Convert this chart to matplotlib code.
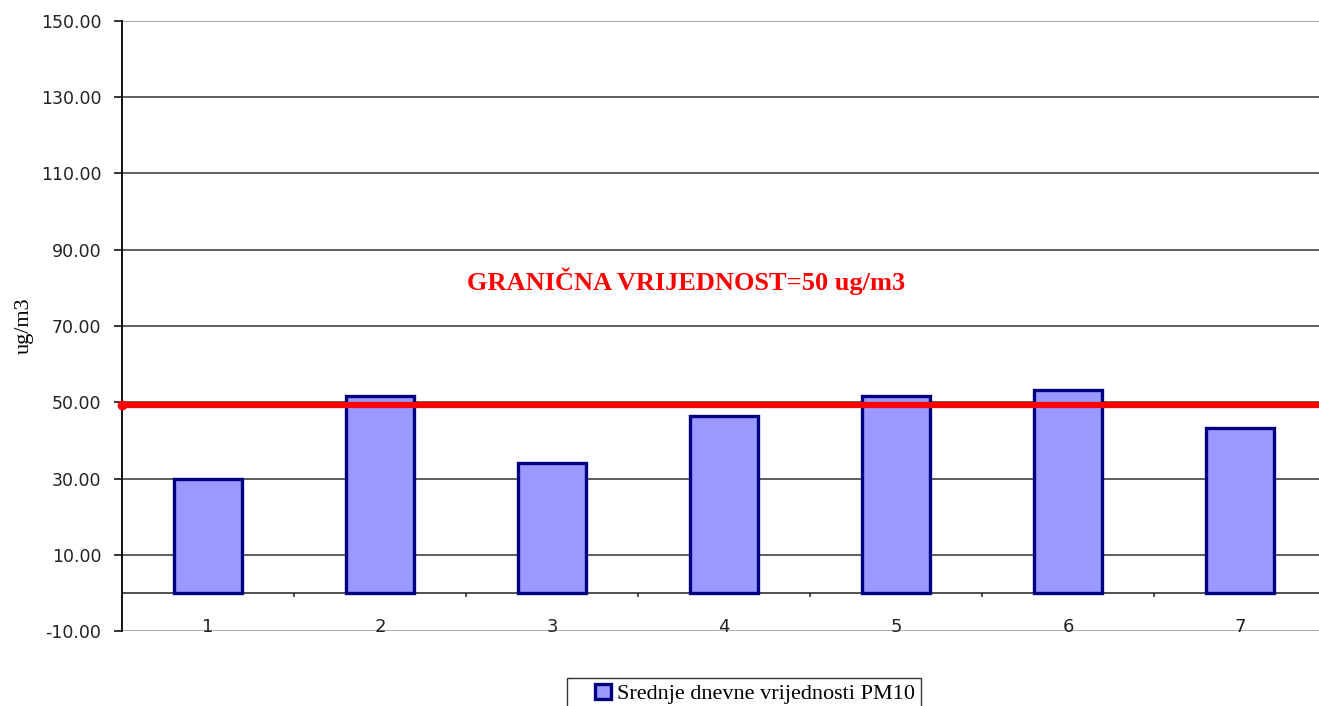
import matplotlib
matplotlib.use("Agg")
import matplotlib.pyplot as plt
from matplotlib.patches import Patch, Rectangle

# podaci
dani = [1, 2, 3, 4, 5, 6, 7]
dani_labels = ["1", "2", "3", "4", "5", "6", "7"]
pm10 = [30.0, 51.7, 34.0, 46.4, 51.7, 53.2, 43.3]
granicna = 49.4
y_ticks = [-10, 10, 30, 50, 70, 90, 110, 130, 150]
y_labels = ["-10.00", "10.00", "30.00", "50.00", "70.00", "90.00", "110.00", "130.00", "150.00"]
sep_ticks = [1.5, 2.5, 3.5, 4.5, 5.5, 6.5]

plt.rcParams["font.family"] = "DejaVu Sans"

fig = plt.figure(figsize=(13.19, 7.06), dpi=100)
ax = fig.add_axes([122 / 1319, 75 / 706, 1204 / 1319, 610 / 706])

ax.set_xlim(0.5, 7.5)
ax.set_ylim(-10, 150)

# mreza
for t in y_ticks[1:-1]:
    ax.axhline(t, color="#333333", linewidth=1.1, zorder=1)
ax.axhline(150, color="#9a9a9a", linewidth=1.3, zorder=1)
ax.axhline(-10, color="#a8a8a8", linewidth=1.3, zorder=1)
ax.axhline(0, color="#222222", linewidth=1.1, zorder=1)
ax.vlines(sep_ticks, -1.1, 0, color="#222222", linewidth=1.1, zorder=1)

ax.bar(dani, pm10, width=0.4, color="#9999FF", edgecolor="#000080",
       linewidth=2.4, zorder=3)

ax.axhline(granicna, color="#FF0000", linewidth=4.5, solid_capstyle="round", zorder=4)
ax.plot([0.5], [granicna], marker="o", markersize=6, color="#FF0000",
        clip_on=False, zorder=5)

ax.text(3.78, 81.8, "GRANIČNA VRIJEDNOST=50 ug/m3", color="#FF0000",
        fontsize=19, fontweight="bold", family="Liberation Serif",
        ha="center", va="center", zorder=5)

for d, lab in zip(dani, dani_labels):
    ax.text(d, -9.0, lab, ha="center", va="center", fontsize=13, color="#222222")

ax.set_xticks([])
ax.set_yticks(y_ticks)
ax.set_yticklabels(y_labels, fontsize=12.5, color="#222222")
ax.tick_params(axis="y", direction="out", length=6, width=1.1, pad=9)

for s in ["top", "right", "bottom"]:
    ax.spines[s].set_visible(False)
ax.spines["left"].set_linewidth(1.3)
ax.spines["left"].set_color("black")

ax.set_ylabel("ug/m3", fontsize=16, family="Liberation Serif")
ax.yaxis.set_label_coords(-88 / 1204, 0.5)

# legenda
fig.patches.append(Rectangle((567 / 1319, -0.05), 354 / 1319, 0.05 + 28 / 706,
                             transform=fig.transFigure, facecolor="white",
                             edgecolor="#333333", linewidth=1.0))
handles = [Patch(facecolor="#9999FF", edgecolor="#000080", linewidth=2.4,
                 label="Srednje dnevne vrijednosti PM10")]
fig.legend(handles=handles, loc="center left",
           bbox_to_anchor=(595 / 1319, 1 - 694 / 706),
           prop={"family": "Liberation Serif", "size": 16},
           frameon=False, handlelength=0.7, handleheight=0.7,
           handletextpad=0.3, borderpad=0, borderaxespad=0)

plt.savefig("out.png", dpi=100)
